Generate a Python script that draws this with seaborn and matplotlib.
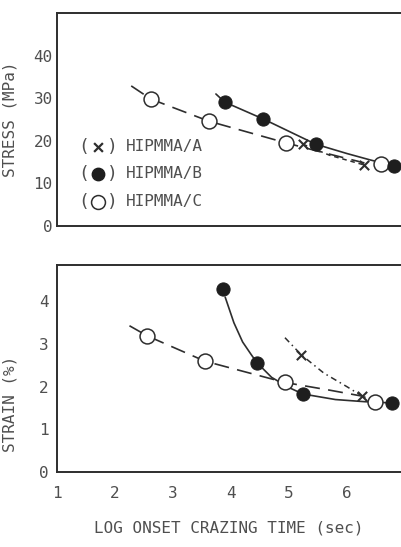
import pandas as pd
import seaborn as sns
import matplotlib.pyplot as plt

# values --------------------------------------------------------------------
# stress panel (MPa) vs log onset crazing time
stress_a_t = [5.24, 6.30]
stress_a = [19.2, 14.3]
stress_b_t = [3.89, 4.56, 5.46, 6.81]
stress_b = [29.1, 25.1, 19.2, 14.1]
stress_c_t = [2.62, 3.62, 4.95, 6.58]
stress_c = [29.8, 24.6, 19.5, 14.5]

# hand drawn curves through the points
stress_a_line_t = [5.24, 5.7, 6.30]
stress_a_line = [19.2, 16.6, 14.3]
stress_b_line_t = [3.74, 3.89, 4.56, 5.46, 6.0, 6.4, 6.81]
stress_b_line = [31.0, 29.1, 25.1, 19.2, 17.0, 15.5, 14.1]
stress_c_line_t = [2.28, 2.62, 3.62, 4.95, 5.6, 6.3]
stress_c_line = [32.9, 29.8, 24.6, 19.5, 17.2, 14.8]

# strain panel (%)
strain_a_t = [5.21, 6.26]
strain_a = [2.75, 1.78]
strain_b_t = [3.87, 4.45, 5.24, 6.78]
strain_b = [4.30, 2.56, 1.83, 1.62]
strain_c_t = [2.56, 3.55, 4.93, 6.49]
strain_c = [3.19, 2.60, 2.10, 1.65]

strain_a_line_t = [4.93, 5.21, 5.6, 6.0, 6.26]
strain_a_line = [3.15, 2.75, 2.32, 2.0, 1.78]
strain_b_line_t = [3.90, 4.05, 4.2, 4.35, 4.45, 4.7, 5.0, 5.24, 5.8, 6.3, 6.78]
strain_b_line = [4.10, 3.50, 3.05, 2.75, 2.56, 2.22, 1.98, 1.83, 1.70, 1.65, 1.62]
strain_c_line_t = [2.25, 2.56, 3.55, 4.93, 5.7, 6.26, 6.49]
strain_c_line = [3.43, 3.19, 2.60, 2.10, 1.92, 1.78, 1.65]

x_ticks = [1, 2, 3, 4, 5, 6]
stress_ticks = [0, 10, 20, 30, 40]
strain_ticks = [0, 1, 2, 3, 4]
legend_labels = ["HIPMMA/A", "HIPMMA/B", "HIPMMA/C"]

sns.set_style("white")
plt.rcParams["font.family"] = ["DejaVu Sans Mono", "DejaVu Sans"]

ink = "#2e2e2e"
txt = "#4f4f4f"

fig = plt.figure(figsize=(4.01, 5.47), dpi=100)
ax1 = fig.add_axes([0.142, 0.587, 0.858, 0.389])
ax2 = fig.add_axes([0.142, 0.137, 0.858, 0.379])

c_dash = (0, (9, 5))


def draw(ax, a_line, b_line, c_line, a_pts, b_pts, c_pts, a_style):
    sns.lineplot(x=c_line[0], y=c_line[1], ax=ax, color=ink, lw=1.2,
                 linestyle=c_dash, sort=False, estimator=None)
    sns.lineplot(x=b_line[0], y=b_line[1], ax=ax, color=ink, lw=1.2,
                 sort=False, estimator=None)
    sns.lineplot(x=a_line[0], y=a_line[1], ax=ax, color=ink, lw=1.1,
                 linestyle=a_style, sort=False, estimator=None)
    sns.scatterplot(x=c_pts[0], y=c_pts[1], ax=ax, s=115, marker="o",
                    facecolor="white", edgecolor=ink, linewidth=1.1, zorder=5)
    sns.scatterplot(x=b_pts[0], y=b_pts[1], ax=ax, s=90, marker="o",
                    color="#1e1e1e", edgecolor="#1e1e1e", zorder=5)
    sns.scatterplot(x=a_pts[0], y=a_pts[1], ax=ax, s=45, marker="x",
                    color=ink, linewidth=1.5, zorder=6)


draw(ax1, (stress_a_line_t, stress_a_line), (stress_b_line_t, stress_b_line),
     (stress_c_line_t, stress_c_line), (stress_a_t, stress_a),
     (stress_b_t, stress_b), (stress_c_t, stress_c), (0, (3, 2.5)))
draw(ax2, (strain_a_line_t, strain_a_line), (strain_b_line_t, strain_b_line),
     (strain_c_line_t, strain_c_line), (strain_a_t, strain_a),
     (strain_b_t, strain_b), (strain_c_t, strain_c), (0, (4, 2.5, 1, 2.5)))

for ax in (ax1, ax2):
    ax.set_xlim(1, 6.93)
    ax.set_xticks(x_ticks)
    for s in ("left", "bottom", "top"):
        ax.spines[s].set_color(ink)
        ax.spines[s].set_linewidth(1.4)
    ax.spines["right"].set_visible(False)
    ax.tick_params(colors=ink, labelcolor=txt, labelsize=11.5, width=1.3,
                   direction="in")

ax1.set_ylim(0, 50)
ax1.set_yticks(stress_ticks)
ax1.set_xticklabels([])
ax1.tick_params(axis="x", length=11)
ax1.tick_params(axis="y", length=12, pad=3)
ax1.set_ylabel("STRESS (MPa)", color=txt, fontsize=11.5)
ax1.yaxis.set_label_coords(-0.115, 0.5)

ax2.set_ylim(0, 4.86)
ax2.set_yticks(strain_ticks)
ax2.tick_params(axis="x", length=7, pad=10)
ax2.tick_params(axis="y", length=5, pad=6)
ax2.set_ylabel("STRAIN (%)", color=txt, fontsize=11.5)
ax2.yaxis.set_label_coords(-0.115, 0.33)
ax2.set_xlabel("LOG ONSET CRAZING TIME (sec)", color=txt, fontsize=11.5,
               labelpad=14)
ax2.text(7, -0.115, "7", transform=ax2.get_xaxis_transform(), ha="center",
         va="top", color=txt, fontsize=11.5, clip_on=False)

# hand lettered key: parentheses around the marker, then the name
key_y = [0.371, 0.244, 0.113]
key_style = [dict(marker="x", s=40, color=ink, linewidth=1.6),
             dict(marker="o", s=80, color="#1e1e1e", edgecolor="#1e1e1e"),
             dict(marker="o", s=100, facecolor="white", edgecolor=ink,
                  linewidth=1.1)]
for y, lab, st in zip(key_y, legend_labels, key_style):
    ax1.text(0.078, y, "(", transform=ax1.transAxes, color=txt,
             fontsize=13, va="center", ha="center")
    ax1.text(0.162, y, ")", transform=ax1.transAxes, color=txt,
             fontsize=13, va="center", ha="center")
    ax1.scatter([0.12], [y], transform=ax1.transAxes, zorder=6, **st)
    ax1.text(0.2, y, lab, transform=ax1.transAxes, color=txt,
             fontsize=11.5, va="center", ha="left")

fig.savefig("out.png", dpi=100)
